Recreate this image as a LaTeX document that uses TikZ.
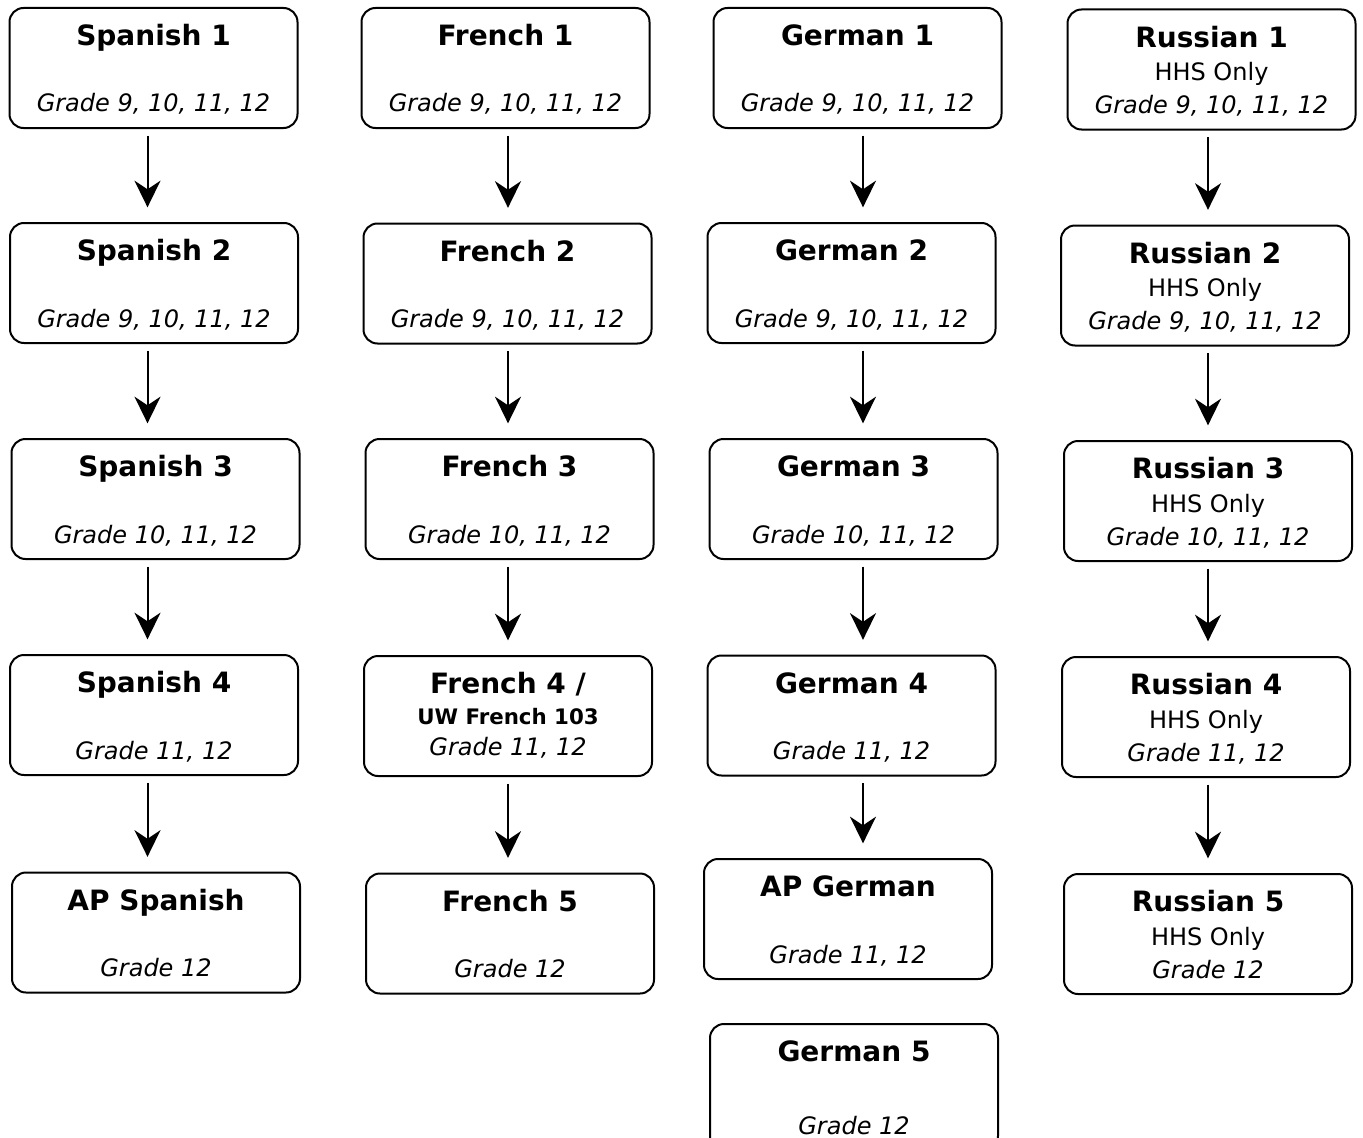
\documentclass[tikz,border=0pt]{standalone}
\usepackage{fontspec}
\setmainfont{DejaVu Sans}
\usetikzlibrary{arrows.meta}

\begin{document}
\begin{tikzpicture}[x=0.75pt, y=-0.75pt,
    course/.style={draw,line width=1.5pt,rounded corners=10.5pt,
        minimum width=216pt,minimum height=90pt,inner sep=0pt},
    tfont/.style={font=\bfseries\fontsize{21}{25}\selectfont},
    gfont/.style={font=\itshape\fontsize{18}{22}\selectfont},
    ttl/.style={label={[anchor=base,yshift=-29pt,tfont]north:{#1}}},
    hhs/.style={label={[anchor=base,yshift=-54pt,font=\fontsize{18}{22}\selectfont]north:{#1}}},
    grd/.style={label={[anchor=base,yshift=12.75pt,gfont]south:{#1}}},
    arr/.style={-{Stealth[length=20pt,width=19.5pt,inset=6.5pt]},line width=1.5pt,
        shorten <=5pt,shorten >=11pt}
]
\useasboundingbox (0,0) rectangle (1363,1138);

%------------------------ 箭头所在的竖线 ------------------------
\coordinate (aS) at (147.5,0);   % Spanish
\coordinate (aF) at (508,0);     % French
\coordinate (aG) at (863,0);     % German
\coordinate (aR) at (1208,0);    % Russian

%------------------------ Spanish ------------------------
\node[course,ttl={Spanish 1},grd={Grade 9, 10, 11, 12}] (sp1) at (153.5,68) {};
\node[course,ttl={Spanish 2},grd={Grade 9, 10, 11, 12}] (sp2) at (154,283) {};
\node[course,ttl={Spanish 3},grd={Grade 10, 11, 12}] (sp3) at (155.5,499) {};
\node[course,ttl={Spanish 4},grd={Grade 11, 12}] (sp4) at (154,715) {};
\node[course,ttl={AP Spanish},grd={Grade 12}] (spAP) at (156,932.5) {};

%------------------------ French ------------------------
\node[course,ttl={French 1},grd={Grade 9, 10, 11, 12}] (fr1) at (505.5,68) {};
\node[course,ttl={French 2},grd={Grade 9, 10, 11, 12}] (fr2) at (507.5,283.5) {};
\node[course,ttl={French 3},grd={Grade 10, 11, 12}] (fr3) at (509.5,499) {};
\node[course,ttl={French 4 /},
    label={[anchor=base,yshift=-52pt,font=\bfseries\fontsize{16}{19}\selectfont]north:UW French 103},
    label={[anchor=base,yshift=16pt,gfont]south:{Grade 11, 12}}] (fr4) at (508,716) {};
\node[course,ttl={French 5},grd={Grade 12}] (fr5) at (510,933.5) {};

%------------------------ German ------------------------
\node[course,ttl={German 1},grd={Grade 9, 10, 11, 12}] (ge1) at (857.5,68) {};
\node[course,ttl={German 2},grd={Grade 9, 10, 11, 12}] (ge2) at (851.5,283) {};
\node[course,ttl={German 3},grd={Grade 10, 11, 12}] (ge3) at (853.5,499) {};
\node[course,ttl={German 4},grd={Grade 11, 12}] (ge4) at (851.5,715.5) {};
\node[course,ttl={AP German},grd={Grade 11, 12}] (geAP) at (848,919) {};
\node[course,minimum height=94.5pt,ttl={German 5},grd={Grade 12}] (ge5) at (854,1087) {};

%------------------------ Russian ------------------------
\node[course,ttl={Russian 1},hhs={HHS Only},grd={Grade 9, 10, 11, 12}] (ru1) at (1211.5,69.5) {};
\node[course,ttl={Russian 2},hhs={HHS Only},grd={Grade 9, 10, 11, 12}] (ru2) at (1205,285.5) {};
\node[course,ttl={Russian 3},hhs={HHS Only},grd={Grade 10, 11, 12}] (ru3) at (1208,501) {};
\node[course,ttl={Russian 4},hhs={HHS Only},grd={Grade 11, 12}] (ru4) at (1206,717) {};
\node[course,ttl={Russian 5},hhs={HHS Only},grd={Grade 12}] (ru5) at (1208,934) {};

%------------------------ 箭头 ------------------------
\draw[arr] (sp1.south -| aS) -- (sp2.north -| aS);
\draw[arr] (sp2.south -| aS) -- (sp3.north -| aS);
\draw[arr] (sp3.south -| aS) -- (sp4.north -| aS);
\draw[arr] (sp4.south -| aS) -- (spAP.north -| aS);

\draw[arr] (fr1.south -| aF) -- (fr2.north -| aF);
\draw[arr] (fr2.south -| aF) -- (fr3.north -| aF);
\draw[arr] (fr3.south -| aF) -- (fr4.north -| aF);
\draw[arr] (fr4.south -| aF) -- (fr5.north -| aF);

\draw[arr] (ge1.south -| aG) -- (ge2.north -| aG);
\draw[arr] (ge2.south -| aG) -- (ge3.north -| aG);
\draw[arr] (ge3.south -| aG) -- (ge4.north -| aG);
\draw[arr] (ge4.south -| aG) -- (geAP.north -| aG);

\draw[arr] (ru1.south -| aR) -- (ru2.north -| aR);
\draw[arr] (ru2.south -| aR) -- (ru3.north -| aR);
\draw[arr] (ru3.south -| aR) -- (ru4.north -| aR);
\draw[arr] (ru4.south -| aR) -- (ru5.north -| aR);

\end{tikzpicture}
\end{document}
